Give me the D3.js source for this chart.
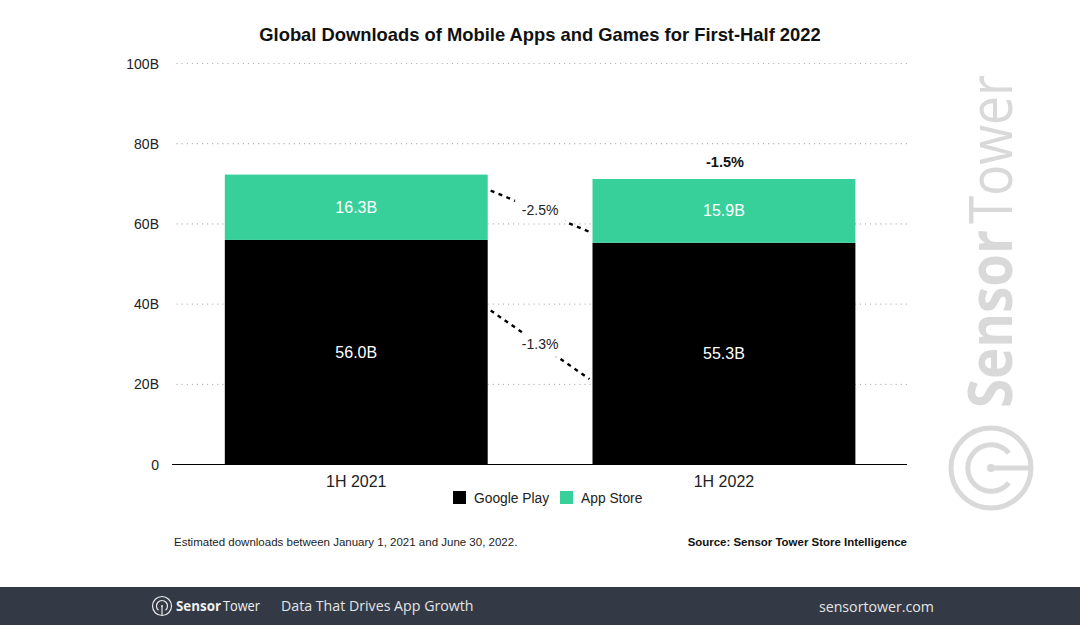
<!DOCTYPE html>
<html>
<head>
<meta charset="utf-8">
<script src="https://cdn.jsdelivr.net/npm/d3@7"></script>
<style>
    html, body { margin: 0; padding: 0; background: #fff; }
    svg { display: block; }
    text { font-family: "Liberation Sans", sans-serif; }
    .brand { font-family: "Open Sans", sans-serif; }
</style>
</head>
<body>
<div id="chart"></div>
<script>
const periods = ['1H 2021', '1H 2022'];
const seriesNames = ['Google Play', 'App Store'];
const googlePlay = [56.0, 55.3];
const appStore = [16.3, 15.9];
const yTicks = [0, 20, 40, 60, 80, 100];
const colors = ['#000000', '#37d09a'];
const totalChange = '-1.5%';
const totalChangeAt = 75.5;
// connector ends are in axis units
const connectorLabels = ['-2.5%', '-1.3%'];
const connectorFrom = [68.3, 38.4];
const connectorTo = [58, 21.3];

const width = 1080, height = 625;
const svg = d3.select('#chart').append('svg')
    .attr('width', width)
    .attr('height', height);

const x = d3.scaleBand()
    .domain(periods)
    .range([172.6, 907.6])
    .paddingInner(0.285)
    .paddingOuter(0.142);
const y = d3.scaleLinear()
    .domain([0, 100])
    .range([464.5, 63.5]);

svg.append('text')
    .attr('x', 540).attr('y', 41)
    .attr('text-anchor', 'middle')
    .style('font-size', '18.37px')
    .style('font-weight', 'bold')
    .style('fill', '#111')
    .text('Global Downloads of Mobile Apps and Games for First-Half 2022');

// grid
svg.append('g').selectAll('line')
    .data(yTicks.filter(d => d > 0))
    .enter().append('line')
    .attr('x1', 177).attr('x2', 907)
    .attr('y1', d => y(d)).attr('y2', d => y(d))
    .style('stroke', '#a8a8a8')
    .style('stroke-width', 1.2)
    .style('stroke-linecap', 'round')
    .style('stroke-dasharray', '0.1 5');

svg.append('g').selectAll('text')
    .data(yTicks)
    .enter().append('text')
    .attr('x', 159)
    .attr('y', d => y(d) + 5)
    .attr('text-anchor', 'end')
    .style('font-size', '14px')
    .style('fill', '#222')
    .text(d => d === 0 ? '0' : d + 'B');

// stacked bars
const rows = periods.map((p, i) => ({ period: p, gp: googlePlay[i], as: appStore[i] }));
const stacked = d3.stack().keys(['gp', 'as'])(rows);

const layers = svg.append('g').selectAll('g')
    .data(stacked)
    .enter().append('g')
    .style('fill', (d, i) => colors[i]);
layers.selectAll('rect')
    .data(d => d)
    .enter().append('rect')
    .attr('x', d => x(d.data.period))
    .attr('width', x.bandwidth())
    .attr('y', d => y(d[1]))
    .attr('height', d => y(d[0]) - y(d[1]));
layers.selectAll('text')
    .data(d => d)
    .enter().append('text')
    .attr('x', d => x(d.data.period) + x.bandwidth() / 2)
    .attr('y', d => y((d[0] + d[1]) / 2) + 5.5)
    .attr('text-anchor', 'middle')
    .style('fill', '#fff')
    .style('font-size', '16px')
    .text(d => (d[1] - d[0]).toFixed(1) + 'B');

// baseline and period labels
svg.append('line')
    .attr('x1', 172).attr('x2', 907)
    .attr('y1', y(0)).attr('y2', y(0))
    .style('stroke', '#000')
    .style('stroke-width', 1.2);
svg.append('g').selectAll('text')
    .data(periods)
    .enter().append('text')
    .attr('x', d => x(d) + x.bandwidth() / 2)
    .attr('y', 487)
    .attr('text-anchor', 'middle')
    .style('font-size', '16px')
    .style('fill', '#222')
    .text(d => d);

svg.append('text')
    .attr('x', x(periods[1]) + x.bandwidth() / 2 + 1)
    .attr('y', y(totalChangeAt) + 5)
    .attr('text-anchor', 'middle')
    .style('font-size', '14.5px')
    .style('font-weight', 'bold')
    .style('fill', '#111')
    .text(totalChange);

// change connectors, white box behind the label breaks the line
const x0 = x(periods[0]) + x.bandwidth() + 3;
const x1 = x(periods[1]) - 3;
const connectors = svg.append('g').selectAll('g')
    .data(connectorLabels)
    .enter().append('g');
connectors.append('line')
    .attr('x1', x0).attr('x2', x1)
    .attr('y1', (d, i) => y(connectorFrom[i]))
    .attr('y2', (d, i) => y(connectorTo[i]))
    .style('stroke', '#000')
    .style('stroke-width', 2.4)
    .style('stroke-dasharray', '4 4.5');
connectors.append('rect')
    .attr('x', (x0 + x1) / 2 - 25)
    .attr('y', (d, i) => y((connectorFrom[i] + connectorTo[i]) / 2) - 12)
    .attr('width', 50)
    .attr('height', 24)
    .style('fill', '#fff');
svg.append('g').selectAll('text')
    .data(connectorLabels)
    .enter().append('text')
    .attr('x', (x0 + x1) / 2)
    .attr('y', (d, i) => y((connectorFrom[i] + connectorTo[i]) / 2) + 4)
    .attr('text-anchor', 'middle')
    .style('font-size', '14px')
    .style('fill', '#222')
    .text(d => d);

// legend
const legendX = [453, 560];
const legend = svg.append('g').selectAll('g')
    .data(seriesNames)
    .enter().append('g')
    .attr('transform', (d, i) => `translate(${legendX[i]},491)`);
legend.append('rect')
    .attr('width', 13).attr('height', 13)
    .style('fill', (d, i) => colors[i]);
legend.append('text')
    .attr('x', 21).attr('y', 12)
    .style('font-size', '13.8px')
    .style('fill', '#222')
    .text(d => d);

svg.append('text')
    .attr('x', 174).attr('y', 546)
    .style('font-size', '11.5px')
    .style('fill', '#222')
    .text('Estimated downloads between January 1, 2021 and June 30, 2022.');
svg.append('text')
    .attr('x', 907).attr('y', 546)
    .attr('text-anchor', 'end')
    .style('font-size', '11.46px')
    .style('font-weight', 'bold')
    .style('fill', '#111')
    .text('Source: Sensor Tower Store Intelligence');

function drawLogo(g, r, stroke) {
    g.append('circle').attr('r', r)
        .style('fill', 'none').style('stroke-width', stroke);
    g.append('path')
        .attr('d', d3.arc()({
            innerRadius: r * 0.58 - stroke / 2,
            outerRadius: r * 0.58 + stroke / 2,
            startAngle: Math.PI * 1.22,
            endAngle: Math.PI * 2.78
        }))
        .style('stroke', 'none');
    g.append('line').attr('x1', 0).attr('x2', 0).attr('y1', 0).attr('y2', r)
        .style('stroke-width', stroke);
    g.append('circle').attr('r', stroke * 0.8).style('stroke', 'none');
}

// watermark
const mark = svg.append('g').style('fill', '#d9d9d9').style('stroke', '#d9d9d9');
drawLogo(mark.append('g').attr('transform', 'translate(991,468) rotate(-90)'), 40, 5);
const markWords = [
    { word: 'Sensor', at: 408, len: 178, weight: 700 },
    { word: 'Tower', at: 224, len: 149, weight: 400 }
];
svg.append('g').selectAll('text')
    .data(markWords)
    .enter().append('text')
    .attr('class', 'brand')
    .attr('transform', d => `translate(1012,${d.at}) rotate(-90)`)
    .attr('textLength', d => d.len)
    .attr('lengthAdjust', 'spacingAndGlyphs')
    .style('font-size', '60px')
    .style('font-weight', d => d.weight)
    .style('fill', '#d9d9d9')
    .text(d => d.word);

// footer band
svg.append('rect')
    .attr('x', 0).attr('y', 587)
    .attr('width', width).attr('height', 38)
    .style('fill', '#333a45');
const footLogo = svg.append('g').style('fill', '#e8e8e8').style('stroke', '#e8e8e8');
drawLogo(footLogo.append('g').attr('transform', 'translate(162,606)'), 9.5, 1.2);
const footWords = [
    { word: 'Sensor', at: 176, len: 45, weight: 700 },
    { word: 'Tower', at: 223, len: 37, weight: 400 }
];
svg.append('g').selectAll('text')
    .data(footWords)
    .enter().append('text')
    .attr('class', 'brand')
    .attr('x', d => d.at).attr('y', 611)
    .attr('textLength', d => d.len)
    .attr('lengthAdjust', 'spacingAndGlyphs')
    .style('font-size', '14.5px')
    .style('font-weight', d => d.weight)
    .style('fill', '#f0f0f0')
    .text(d => d.word);
svg.append('text')
    .attr('class', 'brand')
    .attr('x', 281).attr('y', 611)
    .style('font-size', '14.2px')
    .style('fill', '#e4e4e4')
    .text('Data That Drives App Growth');
svg.append('text')
    .attr('class', 'brand')
    .attr('x', 934).attr('y', 612)
    .attr('text-anchor', 'end')
    .style('font-size', '14.2px')
    .style('fill', '#e4e4e4')
    .text('sensortower.com');
</script>
</body>
</html>
